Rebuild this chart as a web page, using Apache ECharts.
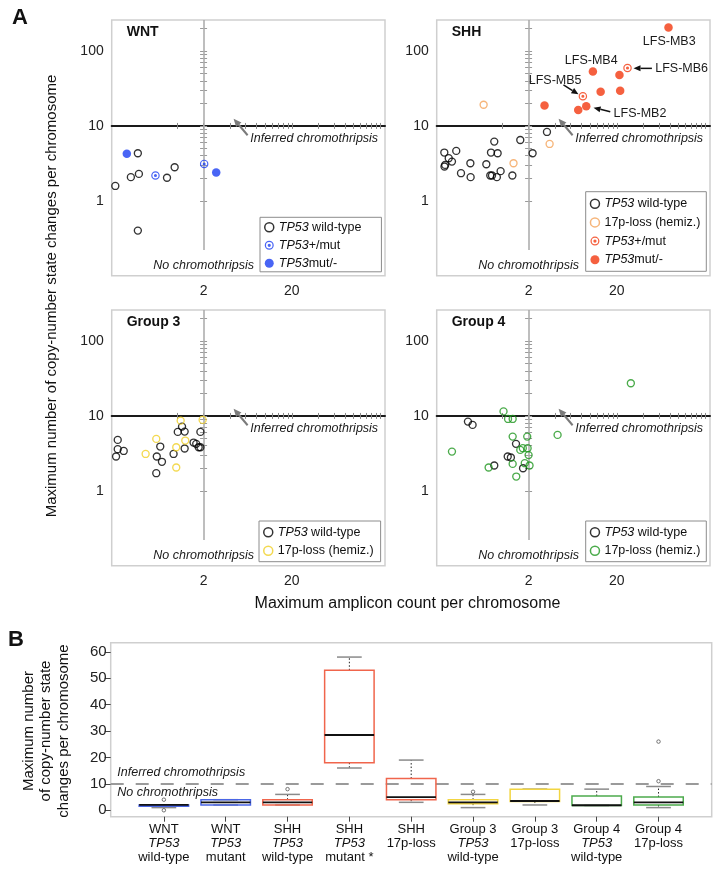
<!DOCTYPE html>
<html>
<head>
<meta charset="utf-8">
<script src="https://cdn.jsdelivr.net/npm/echarts@6/dist/echarts.min.js"></script>
<style>
html,body{margin:0;padding:0;background:#fff;}
#chart{width:722px;height:873px;}
</style>
</head>
<body>
<div id="chart"></div>
<script>
// ===== Panel A data: [maximum amplicon count, maximum copy-number state changes] =====
const wntWildType = [[0.20,1.58],[0.30,2.07],[0.37,2.29],[0.36,4.32],[0.36,0.40],[0.77,2.03],[0.94,2.81]];
const wntHetMut   = [[0.57,2.18],[2.03,3.11]];
const wntHomMut   = [[0.27,4.24],[2.78,2.39]];

const shhWildType = [[0.222,4.41],[0.223,2.87],[0.227,3.02],[0.249,3.71],[0.271,3.34],[0.303,4.64],[0.343,2.34],
  [0.441,2.07],[0.438,3.18],[0.664,3.08],[0.736,2.18],[0.77,2.18],[0.75,4.41],[0.817,6.18],[0.892,4.32],
  [0.874,2.07],[0.964,2.49],[1.31,2.18],[1.61,6.5],[2.22,4.32],[3.23,8.32]];
const shh17pLoss  = [[0.619,19.2],[1.35,3.18],[3.46,5.75]];
const shhHetMut   = [[8.24,24.9],[26.4,59.3]];
const shhHomMut   = [[3.03,18.7],[7.3,16.3],[9.0,18.3],[10.7,53.5],[13.1,28.7],[21.4,47.9],[21.8,29.6],[76.9,207]];
const shhHetMutNames = ['LFS-MB5','LFS-MB6'];
const shhHomMutNames = ['','','LFS-MB2','LFS-MB4','','','','LFS-MB3'];

const g3WildType = [[0.204,2.87],[0.213,4.79],[0.213,3.6],[0.249,3.41],[0.582,1.72],[0.59,2.87],[0.646,3.9],
  [0.675,2.44],[0.914,3.11],[1.02,6.12],[1.14,7.21],[1.22,6.18],[1.22,3.67],[1.54,4.41],[1.65,4.24],
  [1.76,3.82],[1.84,6.12],[1.84,3.82]];
const g317pLoss  = [[0.441,3.11],[0.582,4.94],[0.98,3.82],[0.98,2.05],[1.1,8.66],[1.24,4.69],[1.95,8.85]];

const g4WildType = [[0.411,8.4],[0.464,7.59],[0.817,2.18],[1.16,2.87],[1.26,2.79],[1.44,4.24],[1.73,2.0]];
const g417pLoss  = [[0.271,3.34],[0.705,2.05],[1.04,11.5],[1.17,9.12],[1.32,9.12],[1.32,5.3],[1.32,2.29],
  [1.45,1.55],[1.61,3.52],[1.72,3.71],[1.81,2.34],[1.93,5.3],[1.95,3.71],[2.0,3.0],[2.05,2.18],[4.26,5.58],[28.8,27.3]];

const xTickLabels = [2, 20];
const yTickLabels = [1, 10, 100];
const crossTicksX = [1, 2, 4, 6, 8, 10, 12, 14, 16, 18, 20, 40, 60, 80, 100, 120, 140, 160, 180, 200];
const crossTicksY = [1, 2, 3, 4, 5, 6, 7, 8, 9, 10, 20, 30, 40, 50, 60, 70, 80, 90, 100, 200];
const crossX = 2, crossY = 10;

// ===== Panel B data =====
const boxCategories = ['WNT\nTP53\nwild-type','WNT\nTP53\nmutant','SHH\nTP53\nwild-type','SHH\nTP53\nmutant *',
  'SHH\n17p-loss','Group 3\nTP53\nwild-type','Group 3\n17p-loss','Group 4\nTP53\nwild-type','Group 4\n17p-loss'];
// [lower whisker, Q1, median, Q3, upper whisker]
const boxStats = [[1,1.5,2,2,2],[2,2,3,4,4],[2,2,3,4,6],[16,18,28.5,53,58],[3,4,5,12,19],
  [1,2.5,3,4,6],[2,3.3,3.5,8,8],[1.8,1.8,1.9,5.4,8],[1,2,3,5,9]];
const boxOutliers = [[4,0],[],[8],[],[],[7],[],[],[11,26]];
const boxYTicks = [0,10,20,30,40,50,60];
const threshold = 10;

// ===== styling / layout =====
const FONT = '"Liberation Sans", Arial, Helvetica, sans-serif';
const lg = Math.log10;
const PW = 273.3, PH = 255.7;
const X_MIN = 0.182, X_MAX = 227, Y_MIN = 0.1, Y_MAX = 260, VLINE_LOW = 0.22;
const C = {black:'#000000', blue:'#1c3ff2', red:'#f2380f', orange:'#f4a259', yellow:'#f0d024', green:'#1e961e'};
const BULLSEYE = 'path://M0,-10A10,10,0,1,1,0,10A10,10,0,1,1,0,-10ZM0,-7.2A7.2,7.2,0,1,0,0,7.2A7.2,7.2,0,1,0,0,-7.2ZM0,-3.6A3.6,3.6,0,1,1,0,3.6A3.6,3.6,0,1,1,0,-3.6Z';

const panelDefs = [
  {title:'WNT', left:111.7, top:20, legend:[260,217.3], pad:[3,20,1.5,4], gap:4, groups:[
    {name:'wnt_wt', data:wntWildType, kind:'hollow', color:C.black, label:'{i|TP53} wild-type'},
    {name:'wnt_het', data:wntHetMut, kind:'ring', color:C.blue, label:'{i|TP53}+/mut'},
    {name:'wnt_hom', data:wntHomMut, kind:'filled', color:C.blue, label:'{i|TP53}mut/-'}]},
  {title:'SHH', left:436.7, top:20, legend:[585.7,191.7], pad:[5,6,4.5,4], gap:4.7, groups:[
    {name:'shh_wt', data:shhWildType, kind:'hollow', color:C.black, label:'{i|TP53} wild-type'},
    {name:'shh_17p', data:shh17pLoss, kind:'hollow', color:C.orange, label:'17p-loss (hemiz.)'},
    {name:'shh_het', data:shhHetMut, kind:'ring', color:C.red, label:'{i|TP53}+/mut'},
    {name:'shh_hom', data:shhHomMut, kind:'filled', color:C.red, label:'{i|TP53}mut/-'}]},
  {title:'Group 3', left:111.7, top:310, legend:[259,521], pad:[4.3,7,4,4], gap:4.4, groups:[
    {name:'g3_wt', data:g3WildType, kind:'hollow', color:C.black, label:'{i|TP53} wild-type'},
    {name:'g3_17p', data:g317pLoss, kind:'hollow', color:C.yellow, label:'17p-loss (hemiz.)'}]},
  {title:'Group 4', left:436.7, top:310, legend:[585.7,521], pad:[4.3,6,4,4], gap:4.4, groups:[
    {name:'g4_wt', data:g4WildType, kind:'hollow', color:C.black, label:'{i|TP53} wild-type'},
    {name:'g4_17p', data:g417pLoss, kind:'hollow', color:C.green, label:'17p-loss (hemiz.)'}]}
];
const legendText = {};
panelDefs.forEach(p => p.groups.forEach(g => legendText[g.name] = g.label));

const hOff = PH * (lg(crossY) - lg(Y_MIN)) / (lg(Y_MAX) - lg(Y_MIN));
const vOff = PW * (lg(crossX) - lg(X_MIN)) / (lg(X_MAX) - lg(X_MIN));

const grids = [], xAxes = [], yAxes = [], series = [], legends = [];
const noSplit = {show:false};
const hiddenLine = {show:false, onZero:false};
panelDefs.forEach((p, k) => {
  grids.push({left:p.left, top:p.top, width:PW, height:PH, show:true, borderColor:'#cfcfcf', borderWidth:1.5});
  const base = {type:'value', gridIndex:k, min:lg(X_MIN), max:lg(X_MAX), splitLine:noSplit};
  xAxes.push(Object.assign({}, base, {position:'bottom',
    axisLine:hiddenLine, axisTick:{show:false},
    axisLabel:{customValues:xTickLabels.map(lg), formatter:v => String(Math.round(Math.pow(10, v))),
      fontSize:14, color:'#222', fontFamily:FONT, margin:8}}));
  xAxes.push(Object.assign({}, base, {position:'bottom', offset:-hOff,
    axisLine:{show:true, onZero:false, lineStyle:{color:'#1a1a1a', width:2}},
    axisTick:{show:true, inside:true, length:3, customValues:crossTicksX.map(lg), lineStyle:{color:'#8a8a8a', width:1}},
    axisLabel:{show:false}}));
  xAxes.push(Object.assign({}, base, {position:'bottom', offset:-hOff,
    axisLine:hiddenLine,
    axisTick:{show:true, inside:false, length:3, customValues:crossTicksX.map(lg), lineStyle:{color:'#8a8a8a', width:1}},
    axisLabel:{show:false}}));
  const ybase = {type:'value', gridIndex:k, min:lg(Y_MIN), max:lg(Y_MAX), splitLine:noSplit};
  yAxes.push(Object.assign({}, ybase, {position:'left',
    axisLine:hiddenLine, axisTick:{show:false},
    axisLabel:{customValues:yTickLabels.map(lg), formatter:v => String(Math.round(Math.pow(10, v))),
      fontSize:14, color:'#222', fontFamily:FONT, margin:8}}));
  yAxes.push(Object.assign({}, ybase, {position:'left', offset:-vOff,
    axisLine:hiddenLine,
    axisTick:{show:true, inside:true, length:3.5, customValues:crossTicksY.map(lg), lineStyle:{color:'#9a9a9a', width:1}},
    axisLabel:{show:false}}));
  yAxes.push(Object.assign({}, ybase, {position:'left', offset:-vOff,
    axisLine:hiddenLine,
    axisTick:{show:true, inside:false, length:3.5, customValues:crossTicksY.map(lg), lineStyle:{color:'#9a9a9a', width:1}},
    axisLabel:{show:false}}));

  const legendData = [];
  p.groups.forEach((g, gi) => {
    const s = {
      type:'scatter', name:g.name, xAxisIndex:3*k, yAxisIndex:3*k,
      data:g.data.map(d => [lg(d[0]), lg(d[1])]),
      symbol: g.kind === 'ring' ? BULLSEYE : 'circle',
      symbolSize: g.kind === 'hollow' ? 7 : 8.5,
      itemStyle: g.kind === 'hollow' ? {color:'rgba(255,255,255,0)', borderColor:g.color, borderWidth:1.35}
                                     : {color:g.color, borderWidth:0},
      z: 5, silent:true
    };
    if (gi === 0) {
      s.markLine = {silent:true, symbol:['none','none'], label:{show:false},
        lineStyle:{color:'#a8a8a8', width:1.5, type:'solid'}, z:1,
        data:[[{coord:[lg(crossX), lg(VLINE_LOW)]}, {coord:[lg(crossX), lg(Y_MAX)]}]]};
    }
    series.push(s);
    legendData.push({name:g.name,
      icon: g.kind === 'ring' ? BULLSEYE : 'circle',
      itemStyle: g.kind === 'hollow' ? {color:'#ffffff', borderColor:g.color, borderWidth:1.5}
                                     : {color:g.color, borderWidth:0}});
  });
  legends.push({orient:'vertical', left:p.legend[0], top:p.legend[1], data:legendData,
    selectedMode:false, itemWidth:9, itemHeight:9, itemGap:p.gap, padding:p.pad,
    backgroundColor:'#ffffff', borderColor:'#8c8c8c', borderWidth:1,
    formatter:name => legendText[name],
    textStyle:{fontSize:12.5, color:'#111', fontFamily:FONT, lineHeight:14,
      rich:{i:{fontStyle:'italic', fontSize:12.5, color:'#111', fontFamily:FONT, lineHeight:14}}}});
});

// ===== Panel B =====
const BG = 4;
grids.push({left:110.7, top:642.7, width:601, height:174, show:true, borderColor:'#cfcfcf', borderWidth:1.5});
const bx = xAxes.length, by = yAxes.length;
xAxes.push({type:'value', gridIndex:BG, min:0.14, max:9.86, splitLine:noSplit,
  axisLine:hiddenLine,
  axisTick:{show:true, length:5, customValues:boxCategories.map((c,i)=>i+1), lineStyle:{color:'#444'}},
  axisLabel:{customValues:boxCategories.map((c,i)=>i+1), margin:6,
    formatter:v => boxCategories[Math.round(v)-1].replace(/TP53/g,'{i|TP53}'),
    fontSize:13, color:'#111', fontFamily:FONT, lineHeight:13.7,
    rich:{i:{fontStyle:'italic', fontSize:13, color:'#111', fontFamily:FONT, lineHeight:13.7}}}});
yAxes.push({type:'value', gridIndex:BG, min:-2.44, max:63.44, splitLine:noSplit,
  axisLine:hiddenLine,
  axisTick:{show:true, length:6, customValues:boxYTicks, lineStyle:{color:'#444'}},
  axisLabel:{customValues:boxYTicks, fontSize:15, color:'#222', fontFamily:FONT, margin:4}});

const boxColor = {'WNT':'#4a66e6', 'SHH':'#f0654c', 'Group 3':'#f2d541', 'Group 4':'#4cab4c'};
const BOX_W = 0.8, CAP_W = 0.4;
series.push({
  type:'custom', xAxisIndex:bx, yAxisIndex:by, silent:true, z:3,
  data: boxStats.map((s,i) => [i+1].concat(s)),
  encode:{x:0, y:[1,2,3,4,5]},
  renderItem:(params, api) => {
    const xi = api.value(0);
    const pMin = api.coord([xi, api.value(1)]), pQ1 = api.coord([xi, api.value(2)]),
          pMed = api.coord([xi, api.value(3)]), pQ3 = api.coord([xi, api.value(4)]),
          pMax = api.coord([xi, api.value(5)]);
    const bw = api.size([BOX_W, 0])[0], cw = api.size([CAP_W, 0])[0];
    const cx = pMed[0];
    const col = boxColor[boxCategories[params.dataIndex].split('\n')[0]];
    const kids = [];
    const dot = {stroke:'#222', lineWidth:1, lineDash:[1.5,2]};
    const cap = {stroke:'#8a8a8a', lineWidth:1.5};
    if (pMax[1] < pQ3[1]) kids.push({type:'line', shape:{x1:cx, y1:pQ3[1], x2:cx, y2:pMax[1]}, style:dot});
    if (pMin[1] > pQ1[1]) kids.push({type:'line', shape:{x1:cx, y1:pQ1[1], x2:cx, y2:pMin[1]}, style:dot});
    kids.push({type:'line', shape:{x1:cx-cw/2, y1:pMax[1], x2:cx+cw/2, y2:pMax[1]}, style:cap});
    kids.push({type:'line', shape:{x1:cx-cw/2, y1:pMin[1], x2:cx+cw/2, y2:pMin[1]}, style:cap});
    kids.push({type:'rect', shape:{x:cx-bw/2, y:pQ3[1], width:bw, height:Math.max(pQ1[1]-pQ3[1], 1)},
      style:{fill:'rgba(255,255,255,0)', stroke:col, lineWidth:1.5}});
    kids.push({type:'line', shape:{x1:cx-bw/2, y1:pMed[1], x2:cx+bw/2, y2:pMed[1]}, style:{stroke:'#111', lineWidth:1.8}});
    return {type:'group', children:kids};
  }
});
const outlierPts = [];
boxOutliers.forEach((arr, i) => arr.forEach(v => outlierPts.push([i+1, v])));
series.push({
  type:'scatter', xAxisIndex:bx, yAxisIndex:by, data:outlierPts, silent:true, z:4,
  symbol:'circle', symbolSize:3.5, itemStyle:{color:'rgba(255,255,255,0)', borderColor:'#555', borderWidth:1},
  markLine:{silent:true, symbol:['none','none'], label:{show:false}, z:2,
    lineStyle:{color:'#9a9a9a', width:2.2, type:[13,12]}, data:[{yAxis:threshold}]}
});

const chart = echarts.init(document.getElementById('chart'), null, {renderer:'canvas'});
chart.setOption({animation:false, backgroundColor:'#ffffff', grid:grids, xAxis:xAxes, yAxis:yAxes,
  legend:legends, series:series});

// ===== annotations =====
function txt(x, y, text, o) {
  o = o || {};
  return {type:'text', x:x, y:y, z:100, rotation:o.rotation || 0, silent:true,
    style:{text:text, fontSize:o.size || 12.5, fontFamily:FONT, fontStyle:o.italic ? 'italic' : 'normal',
      fontWeight:o.bold ? 'bold' : 'normal', fill:o.color || '#1a1a1a',
      align:o.align || 'left', textAlign:o.align || 'left',
      verticalAlign:'middle', textVerticalAlign:'middle', lineHeight:o.lineHeight || undefined}};
}
function arrow(x1, y1, x2, y2, color, w, hl, hw) {
  const dx = x2-x1, dy = y2-y1, L = Math.hypot(dx, dy), ux = dx/L, uy = dy/L;
  const bxp = x2-ux*hl, byp = y2-uy*hl;
  return [
    {type:'line', z:100, silent:true, shape:{x1:x1, y1:y1, x2:bxp, y2:byp}, style:{stroke:color, lineWidth:w}},
    {type:'polygon', z:100, silent:true, shape:{points:[[x2,y2],[bxp-uy*hw, byp+ux*hw],[bxp+uy*hw, byp-ux*hw]]}, style:{fill:color}}
  ];
}
const G = [];
panelDefs.forEach((p, k) => {
  const c = chart.convertToPixel({xAxisIndex:3*k, yAxisIndex:3*k}, [lg(crossX), lg(crossY)]);
  G.push(txt(p.left + 15, p.top + 11.7, p.title, {bold:true, size:14, color:'#111'}));
  G.push(txt(c[0] + 46.7, c[1] + 13, 'Inferred chromothripsis', {italic:true}));
  G.push(...arrow(c[0] + 44, c[1] + 9.3, c[0] + 30, c[1] - 7.3, '#7a7a7a', 2, 8, 3.5));
  G.push(txt(c[0], p.top + PH - 10, 'No chromothripsis', {italic:true, align:'center'}));
});
// SHH sample labels
const fiS = {xAxisIndex:3, yAxisIndex:3};
function ptS(d) { return chart.convertToPixel(fiS, [lg(d[0]), lg(d[1])]); }
shhHomMutNames.forEach((n, i) => {
  if (!n) return;
  const q = ptS(shhHomMut[i]);
  if (n === 'LFS-MB3') G.push(txt(q[0] + 0.7, q[1] + 14, n, {align:'center'}));
  else if (n === 'LFS-MB4') G.push(txt(q[0] - 1.7, q[1] - 11.3, n, {align:'center'}));
  else if (n === 'LFS-MB2') {
    G.push(txt(q[0] + 27.3, q[1] + 7, n));
    G.push(...arrow(q[0] + 24, q[1] + 5.4, q[0] + 7.3, q[1] + 1.4, '#111', 1.5, 7, 3));
  }
});
shhHetMutNames.forEach((n, i) => {
  const q = ptS(shhHetMut[i]);
  if (n === 'LFS-MB5') {
    G.push(txt(q[0] - 27.7, q[1] - 15.3, n, {align:'center'}));
    G.push(...arrow(q[0] - 19.4, q[1] - 11.3, q[0] - 4.4, q[1] - 2, '#111', 1.5, 7, 3));
  } else if (n === 'LFS-MB6') {
    G.push(txt(q[0] + 27.7, q[1] + 0.3, n));
    G.push(...arrow(q[0] + 24.4, q[1] + 0.3, q[0] + 6, q[1] + 0.3, '#111', 1.5, 7, 3));
  }
});
// Panel B threshold labels
const tB = chart.convertToPixel({xAxisIndex:bx, yAxisIndex:by}, [1, threshold]);
G.push(txt(117.3, tB[1] - 11.5, 'Inferred chromothripsis', {italic:true}));
G.push(txt(117.3, tB[1] + 8.5, 'No chromothripsis', {italic:true}));
// titles
G.push(txt(20, 18, 'A', {bold:true, size:22, color:'#111', align:'center'}));
G.push(txt(16, 639.5, 'B', {bold:true, size:22, color:'#111', align:'center'}));
G.push(txt(407.5, 603.3, 'Maximum amplicon count per chromosome', {size:16, color:'#111', align:'center'}));
G.push(txt(52, 296, 'Maximum number of copy-number state changes per chromosome',
  {size:15, color:'#111', align:'center', rotation:Math.PI/2}));
G.push(txt(46, 731, 'Maximum number\nof copy-number state\nchanges per chromosome',
  {size:15, color:'#111', align:'center', rotation:Math.PI/2, lineHeight:17.5}));
chart.setOption({graphic:{elements:G}});
</script>
</body>
</html>
